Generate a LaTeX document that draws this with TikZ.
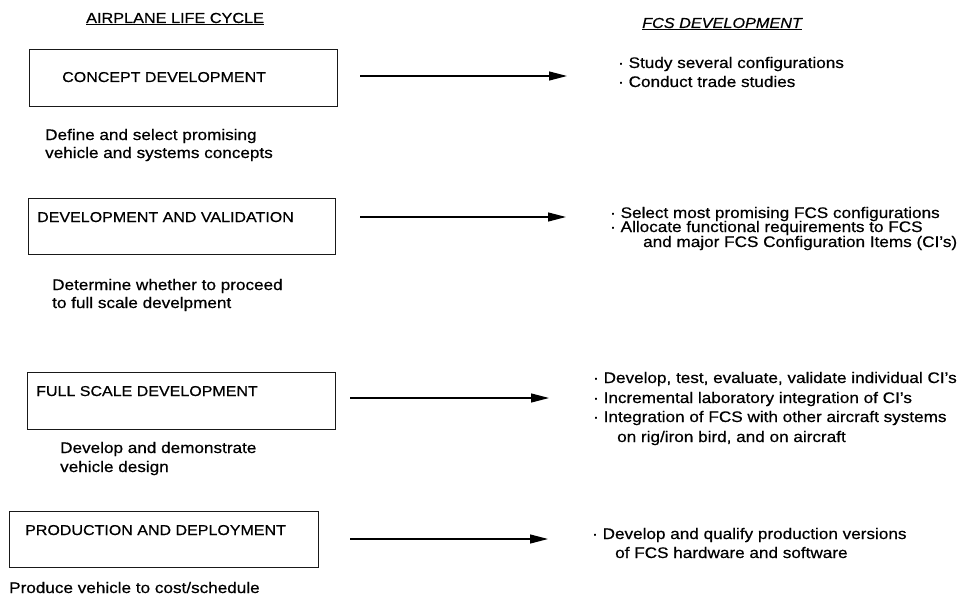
\documentclass[tikz,border=0pt]{standalone}
\usepackage{fontspec}
\setmainfont[FakeStretch=1.12,FakeBold=0.6]{Liberation Sans}
\usetikzlibrary{arrows.meta}

\tikzset{
  stagebox/.style={draw=black!90, line width=0.9pt, minimum width=#1, minimum height=56pt, inner sep=0pt},
  stagelabel/.style={anchor=base west, inner sep=0pt, font=\fontsize{14.3}{17}\selectfont},
  note/.style={anchor=base west, inner sep=0pt, font=\fontsize{15.3}{18}\selectfont},
  head/.style={anchor=base west, inner sep=0pt, font=\fontsize{14.5}{17}\selectfont},
  flow/.style={line width=1.2pt, -{Triangle[length=18pt,width=9pt]}}
}

\begin{document}
\begin{tikzpicture}[x=1pt,y=-1pt]
\useasboundingbox (0,0) rectangle (966,599);

% column headings
\node[head] (hl) at (86,23) {\underline{AIRPLANE LIFE CYCLE}};
\node[head] (hr) at (642,28) {\underline{\itshape FCS DEVELOPMENT}};

% life-cycle stages
\node[stagebox=308pt, minimum height=57pt] (b1) at (183,77.5) {};
\node[stagelabel] (t1) at (62,82) {CONCEPT DEVELOPMENT};
\node[note] (d1a) at (45,140) {Define and select promising};
\node[note] (d1b) at (45,158) {vehicle and systems concepts};

\node[stagebox=307pt] (b2) at (181.5,226) {};
\node[stagelabel] (t2) at (37,222) {DEVELOPMENT AND VALIDATION};
\node[note] (d2a) at (52,290) {Determine whether to proceed};
\node[note] (d2b) at (52,308) {to full scale develpment};

\node[stagebox=308pt, minimum height=57pt] (b3) at (181,400.5) {};
\node[stagelabel] (t3) at (36,396) {FULL SCALE DEVELOPMENT};
\node[note] (d3a) at (60,453) {Develop and demonstrate};
\node[note] (d3b) at (60,472) {vehicle design};

\node[stagebox=309pt] (b4) at (163.5,539) {};
\node[stagelabel] (t4) at (25,535) {PRODUCTION AND DEPLOYMENT};
\node[note] (d4a) at (9,593) {Produce vehicle to cost/schedule};

% FCS activities
\node[note] (r1a) at (618,68) {· Study several configurations};
\node[note] (r1b) at (618,87) {· Conduct trade studies};

\node[note] (r2a) at (610,218) {· Select most promising FCS configurations};
\node[note] (r2b) at (610,232) {· Allocate functional requirements to FCS};
\node[note] (r2c) at (643,247) {and major FCS Configuration Items (CI's)};

\node[note] (r3a) at (593,383) {· Develop, test, evaluate, validate individual CI's};
\node[note] (r3b) at (593,403) {· Incremental laboratory integration of CI's};
\node[note] (r3c) at (593,422) {· Integration of FCS with other aircraft systems};
\node[note] (r3d) at (617,442) {on rig/iron bird, and on aircraft};

\node[note] (r4a) at (592,539) {· Develop and qualify production versions};
\node[note] (r4b) at (615,558) {of FCS hardware and software};

% arrows from each stage to its activities
\coordinate (s1) at (360,76);  \coordinate (e1) at (567,76);
\coordinate (s2) at (360,217); \coordinate (e2) at (566,217);
\coordinate (s3) at (350,398); \coordinate (e3) at (549,398);
\coordinate (s4) at (350,539); \coordinate (e4) at (548,539);
\draw[flow] (s1) -- (e1);
\draw[flow] (s2) -- (e2);
\draw[flow] (s3) -- (e3);
\draw[flow] (s4) -- (e4);
\end{tikzpicture}
\end{document}
